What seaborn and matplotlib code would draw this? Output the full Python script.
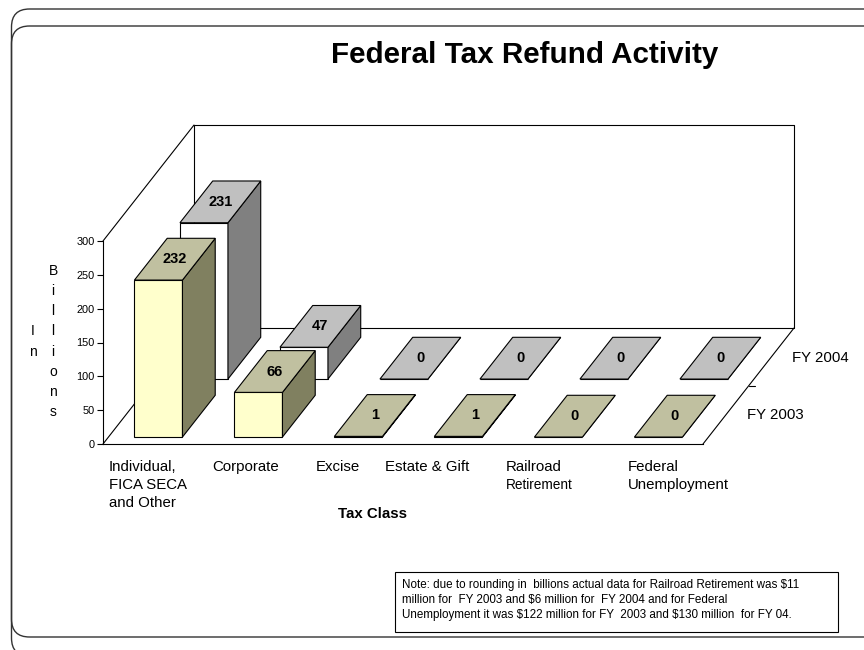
import matplotlib
matplotlib.use("Agg")
import matplotlib.pyplot as plt
import seaborn as sns
from matplotlib.patches import Polygon, FancyBboxPatch, Rectangle
from matplotlib.lines import Line2D
from matplotlib.transforms import IdentityTransform

# chart data
categories = ["Individual, FICA SECA and Other", "Corporate", "Excise",
              "Estate & Gift", "Railroad Retirement", "Federal Unemployment"]
fy2003 = [232, 66, 1, 1, 0, 0]
fy2004 = [231, 47, 0, 0, 0, 0]
series = ["FY 2003", "FY 2004"]
y_ticks = [0, 50, 100, 150, 200, 250, 300]

W, H = 864, 650

# oblique "3D" projection: full depth offset in data units
DX = 0.91
DY = 171.4
BAR_DEPTH = 0.36
slot_front = {"FY 2003": 0.06, "FY 2004": 0.56}
colors = {
    "FY 2003": dict(front="#ffffcc", top="#c0c0a0", side="#808060"),
    "FY 2004": dict(front="#ffffff", top="#c0c0c0", side="#808080"),
}

sns.set_style("white")
plt.rcParams["font.family"] = ["Liberation Sans", "DejaVu Sans"]
plt.rcParams["text.color"] = "black"
plt.rcParams["ytick.color"] = "black"
plt.rcParams["ytick.labelcolor"] = "black"


def fx(x):
    return x / W


def fy(y):
    return 1 - y / H


fig = plt.figure(figsize=(W / 100, H / 100), dpi=100)
ax = fig.add_axes([fx(103), fy(444), 600 / W, 203 / H])
ax.patch.set_visible(False)


def draw_series(values, name, z):
    col = colors[name]
    n0 = len(ax.patches)
    sns.barplot(x=categories, y=values, ax=ax, width=0.48, color=col["front"],
                saturation=1, edgecolor="black", linewidth=0.8, errorbar=None)
    ox, oy = slot_front[name] * DX, slot_front[name] * DY
    dx, dy = BAR_DEPTH * DX, BAR_DEPTH * DY
    for bar, v in zip(ax.patches[n0:], values):
        bar.set_x(bar.get_x() + ox)
        bar.set_y(oy)
        bar.set_zorder(z)
        bar.set_clip_on(False)
        x0 = bar.get_x()
        x1 = x0 + bar.get_width()
        yb, yt = oy, oy + bar.get_height()
        side = Polygon([(x1, yb), (x1 + dx, yb + dy), (x1 + dx, yt + dy), (x1, yt)],
                       closed=True, facecolor=col["side"], edgecolor="black",
                       linewidth=0.8, zorder=z, clip_on=False)
        top = Polygon([(x0, yt), (x1, yt), (x1 + dx, yt + dy), (x0 + dx, yt + dy)],
                      closed=True, facecolor=col["top"], edgecolor="black",
                      linewidth=0.8, zorder=z, clip_on=False)
        ax.add_patch(side)
        ax.add_patch(top)
        ax.text((x0 + x1) / 2 + dx / 2, yt + dy / 2, f"{v}", ha="center", va="center",
                fontsize=10.5, fontweight="bold", color="black",
                zorder=z + 0.5, clip_on=False)


# back series first so the front one covers it
draw_series(fy2004, "FY 2004", 3)
draw_series(fy2003, "FY 2003", 4)

ax.set_xlim(-0.5, 5.5)
ax.set_ylim(0, 300)
ax.set_xticks([])
ax.set_yticks(y_ticks)
ax.set_xlabel("")
ax.set_ylabel("")
ax.tick_params(axis="y", direction="out", length=4.3, width=0.8, pad=1.5,
               labelsize=7.9, left=True, colors="black")
for s in ["top", "right"]:
    ax.spines[s].set_visible(False)
for s in ["left", "bottom"]:
    ax.spines[s].set_color("black")
    ax.spines[s].set_linewidth(0.8)

# walls and floor of the 3D box
x_l, x_r = -0.5, 5.5
box_lines = [
    ([x_l, x_l + DX], [0, DY]),
    ([x_l, x_l + DX], [300, 300 + DY]),
    ([x_l + DX, x_r + DX, x_r + DX, x_l + DX, x_l + DX], [DY, DY, 300 + DY, 300 + DY, DY]),
    ([x_r, x_r + DX], [0, DY]),
    ([x_r + DX / 2, x_r + DX / 2 + 0.06], [DY / 2, DY / 2]),
]
for xs, ys in box_lines:
    ax.add_line(Line2D(xs, ys, color="black", linewidth=0.8, zorder=1, clip_on=False))

# series labels on the depth axis
fig.text(fx(792), fy(358), "FY 2004", fontsize=10.8, va="center", ha="left")
fig.text(fx(747), fy(415), "FY 2003", fontsize=10.8, va="center", ha="left")

# category labels
cat_lines = [["Individual,", "FICA SECA", "and Other"], ["Corporate"], ["Excise"],
             ["Estate & Gift"], ["Railroad", "Retirement"], ["Federal", "Unemployment"]]
cat_x = [109, 212, 316, 385, 506, 628]
for lines, x in zip(cat_lines, cat_x):
    for k, line in enumerate(lines):
        size = 9.8 if line == "Retirement" else 10.8
        fig.text(fx(x), fy(467 + 18 * k), line, fontsize=size, ha="left", va="center")

fig.text(fx(372), fy(514), "Tax Class", fontsize=10.8, fontweight="bold",
         ha="center", va="center")

# stacked y label
fig.text(fx(53), fy(341.5), "\n".join("Billions"), fontsize=10, ha="center",
         va="center", linespacing=1.55)
fig.text(fx(33), fy(341.5), "\n".join("In"), fontsize=10, ha="center",
         va="center", linespacing=1.55)

fig.text(fx(525), fy(55), "Federal Tax Refund Activity", fontsize=21.3,
         fontweight="bold", ha="center", va="center")

# note box
fig.add_artist(Rectangle((fx(395), fy(632)), (838 - 395) / W, (632 - 572) / H,
                         transform=fig.transFigure, facecolor="none",
                         edgecolor="black", linewidth=0.8))
note = ["Note: due to rounding in  billions actual data for Railroad Retirement was $11",
        "million for  FY 2003 and $6 million for  FY 2004 and for Federal",
        "Unemployment it was $122 million for FY  2003 and $130 million  for FY 04."]
for k, line in enumerate(note):
    fig.text(fx(402), fy(585 + 15 * k), line, fontsize=8.4, ha="left", va="center",
             parse_math=False)

# rounded slide frames, pixel rows measured from the top
for top, bottom in [(9, 656), (26, 637)]:
    fig.add_artist(FancyBboxPatch((11.5, H - bottom), 900, bottom - top,
                                  boxstyle="round,pad=0,rounding_size=18",
                                  transform=IdentityTransform(), facecolor="none",
                                  edgecolor="#333333", linewidth=1.0))

fig.savefig("out.png", dpi=100)
